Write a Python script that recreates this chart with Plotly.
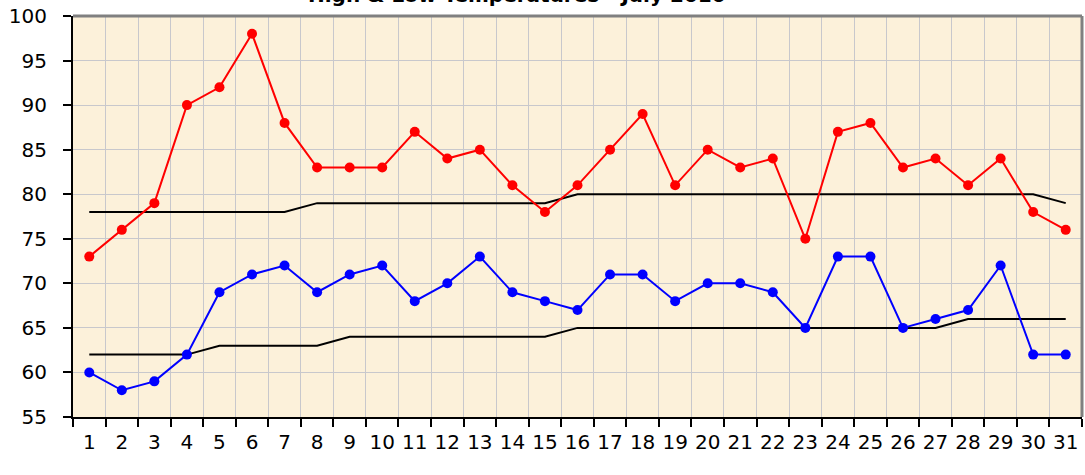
import plotly.graph_objects as go

days = [str(d) for d in range(1, 32)]
high = [73, 76, 79, 90, 92, 98, 88, 83, 83, 83, 87, 84, 85, 81, 78, 81, 85, 89, 81, 85, 83, 84, 75, 87, 88, 83, 84, 81, 84, 78, 76]
low = [60, 58, 59, 62, 69, 71, 72, 69, 71, 72, 68, 70, 73, 69, 68, 67, 71, 71, 68, 70, 70, 69, 65, 73, 73, 65, 66, 67, 72, 62, 62]
normal_high = [78]*7 + [79]*8 + [80]*15 + [79]
normal_low = [62]*4 + [63]*4 + [64]*7 + [65]*12 + [66]*4
title = "High & Low Temperatures - July 2010"

FONT = "DejaVu Sans"

fig = go.Figure()
fig.add_trace(go.Scatter(x=days, y=normal_high, mode="lines", line=dict(color="black", width=2), showlegend=False))
fig.add_trace(go.Scatter(x=days, y=normal_low, mode="lines", line=dict(color="black", width=2), showlegend=False))
fig.add_trace(go.Scatter(x=days, y=high, mode="lines+markers", line=dict(color="#FF0000", width=2),
                         marker=dict(color="#FF0000", size=10), showlegend=False))
fig.add_trace(go.Scatter(x=days, y=low, mode="lines+markers", line=dict(color="#0000FF", width=2),
                         marker=dict(color="#0000FF", size=10), showlegend=False))

fig.update_layout(
    width=1085, height=475,
    margin=dict(l=73, r=3, t=16, b=58, autoexpand=False),
    paper_bgcolor="white",
    plot_bgcolor="#FCF1DA",
    font=dict(family=FONT, size=20, color="black"),
    annotations=[dict(text="<b>" + title + "</b>", xref="paper", yref="paper", x=0.44, y=1,
                      xanchor="center", yanchor="middle", yshift=21, showarrow=False,
                      font=dict(family=FONT, size=20, color="black"))],
    shapes=[
        dict(type="line", xref="paper", yref="paper", x0=0, x1=1, y0=1, y1=1,
             line=dict(color="#808080", width=3)),
        dict(type="line", xref="paper", yref="paper", x0=1, x1=1, y0=0, y1=1,
             line=dict(color="#808080", width=3)),
    ],
)
fig.update_xaxes(
    type="category", tickson="boundaries", range=[-0.5, 30.5],
    showgrid=True, gridcolor="#C8C8CC", gridwidth=1,
    showline=True, linecolor="black", linewidth=2,
    ticks="outside", ticklen=8, tickcolor="black", tickwidth=1.5,
    tickangle=0, automargin=False,
    ticklabelstandoff=6,
    tickfont=dict(family=FONT, size=20),
)
fig.update_yaxes(
    range=[55, 100], dtick=5, tick0=55,
    showgrid=True, gridcolor="#C8C8CC", gridwidth=1,
    showline=True, linecolor="black", linewidth=2,
    ticks="outside", ticklen=8, tickcolor="black", tickwidth=1.5,
    ticklabelstandoff=12, automargin=False,
    tickfont=dict(family=FONT, size=20),
    zeroline=False,
)

fig.write_html("out.html", config={"displayModeBar": False},
               post_script="document.body.style.margin='0';")
